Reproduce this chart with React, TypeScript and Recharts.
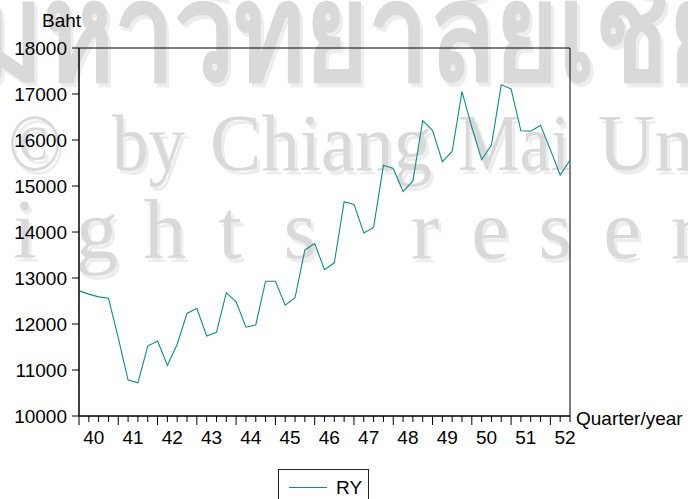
import React from 'react'
import { LineChart, Line, XAxis, YAxis, ReferenceArea } from 'recharts'

// quarterly real income, 40Q1 .. 52Q3
const years = [40, 41, 42, 43, 44, 45, 46, 47, 48, 49, 50, 51, 52]
const quarters = ['Q1', 'Q2', 'Q3', 'Q4']
const ry = [
  12720, 12650, 12590, 12560, 11700, 10780, 10720, 11520, 11630, 11100,
  11560, 12230, 12340, 11740, 11820, 12680, 12480, 11930, 11980, 12930,
  12930, 12410, 12570, 13610, 13750, 13180, 13330, 14660, 14600, 13980,
  14100, 15450, 15380, 14880, 15110, 16420, 16210, 15530, 15750, 17050,
  16280, 15570, 15890, 17200, 17110, 16200, 16190, 16320, 15790, 15240,
  15560,
]
const yTicks = [10000, 11000, 12000, 13000, 14000, 15000, 16000, 17000, 18000]

const periods = years.flatMap((y) => quarters.map((q) => `${y}${q}`)).slice(0, ry.length)
const data = ry.map((v, i) => ({ t: i, period: periods[i], ry: v }))
const xTicks = data.map((d) => d.t)

const LINE = '#138a8a'
const FONT = 'Arial, "Liberation Sans", Helvetica, sans-serif'
const WM = '#d9d9d9'
const WM_SHADOW = '#ededed'

function XTick(props: any) {
  const { x, y, payload } = props
  const i = payload.value as number
  const major = i % 4 === 0
  return (
    <g>
      <line x1={x} x2={x} y1={y} y2={y + (major ? 9 : 6)} stroke="#000" />
      {major && (
        <text x={x + 14.7} y={y + 28} textAnchor="middle" fontSize={19} fontFamily={FONT} fill="#000">
          {years[i / 4]}
        </text>
      )}
    </g>
  )
}

// background watermark of the source document
function Watermark() {
  const row3 = [
    ['i', 25], ['g', 97], ['h', 165], ['t', 230], ['s', 300],
    ['r', 425], ['e', 490], ['s', 555], ['e', 622], ['r', 685],
  ] as const
  const row2 = [
    ['©', 8, 54], ['by', 112, 73], ['Chiang', 210, 222], ['Mai', 458, 112], ['University', 598, 330],
  ] as const
  const layer = (dx: number, dy: number, fill: string) => (
    <g fill={fill} transform={`translate(${dx},${dy})`}>
      <g transform="translate(0,80) scale(1,1.27) translate(0,-80)">
        <text x={-28} y={80} fontSize={108} fontWeight="bold" fontFamily='"Noto Sans", "DejaVu Sans", sans-serif'>
          มหาวิทยาลัยเชียงใหม่
        </text>
      </g>
      {row2.map(([w, x, len]) => (
        <text key={w} x={x} y={170} fontSize={80} fontFamily='"Liberation Serif", "DejaVu Serif", serif'
          textLength={len} lengthAdjust="spacingAndGlyphs">
          {w}
        </text>
      ))}
      {row3.map(([c, x], k) => (
        <text key={k} x={x} y={258} fontSize={85} textAnchor="middle" fontFamily='"Liberation Serif", "DejaVu Serif", serif'>
          {c}
        </text>
      ))}
    </g>
  )
  return (
    <svg width={688} height={499} style={{ position: 'absolute', left: 0, top: 0 }}>
      {layer(3, 4, WM_SHADOW)}
      {layer(0, 0, WM)}
    </svg>
  )
}

export default function App() {
  return (
    <div style={{ position: 'absolute', left: 0, top: 0, width: 688, height: 499, overflow: 'hidden', background: '#fff' }}>
      <Watermark />
      <div style={{ position: 'absolute', left: 0, top: 0 }}>
        <LineChart width={688} height={499} data={data} margin={{ top: 48, right: 118, bottom: 53, left: 19 }}>
          <XAxis
            type="number"
            dataKey="t"
            domain={[0, 50]}
            ticks={xTicks}
            interval={0}
            height={30}
            tickSize={0}
            tickMargin={0}
            tickLine={false}
            axisLine={{ stroke: '#000' }}
            tick={<XTick />}
            label={() => (
              <text x={576} y={425} fontSize={19} fontFamily={FONT} fill="#000">
                Quarter/year
              </text>
            )}
          />
          <YAxis
            type="number"
            domain={[10000, 18000]}
            ticks={yTicks}
            width={60}
            tickSize={7}
            tickMargin={5}
            tickLine={{ stroke: '#000' }}
            axisLine={{ stroke: '#000' }}
            tick={{ fill: '#000', fontSize: 19, fontFamily: FONT }}
            label={() => (
              <text x={61.5} y={27} textAnchor="middle" fontSize={19} fontFamily={FONT} fill="#000">
                Baht
              </text>
            )}
          />
          <ReferenceArea x1={0} x2={50} y1={10000} y2={18000} fill="none" stroke="#000" strokeWidth={1} fillOpacity={0} />
          <Line type="linear" dataKey="ry" stroke={LINE} strokeWidth={1.1} dot={false} isAnimationActive={false} />
        </LineChart>
      </div>
      <div
        style={{
          position: 'absolute',
          left: 278,
          top: 469,
          width: 91,
          height: 40,
          border: '1px solid #222',
          background: '#fff',
          boxSizing: 'border-box',
        }}
      >
        <svg width={89} height={38} style={{ position: 'absolute', left: 0, top: 0 }}>
          <line x1={10} x2={48} y1={17.5} y2={17.5} stroke={LINE} strokeWidth={1.1} />
          <text x={57} y={23.5} fontSize={19} fontFamily={FONT} fill="#000">
            RY
          </text>
        </svg>
      </div>
    </div>
  )
}
